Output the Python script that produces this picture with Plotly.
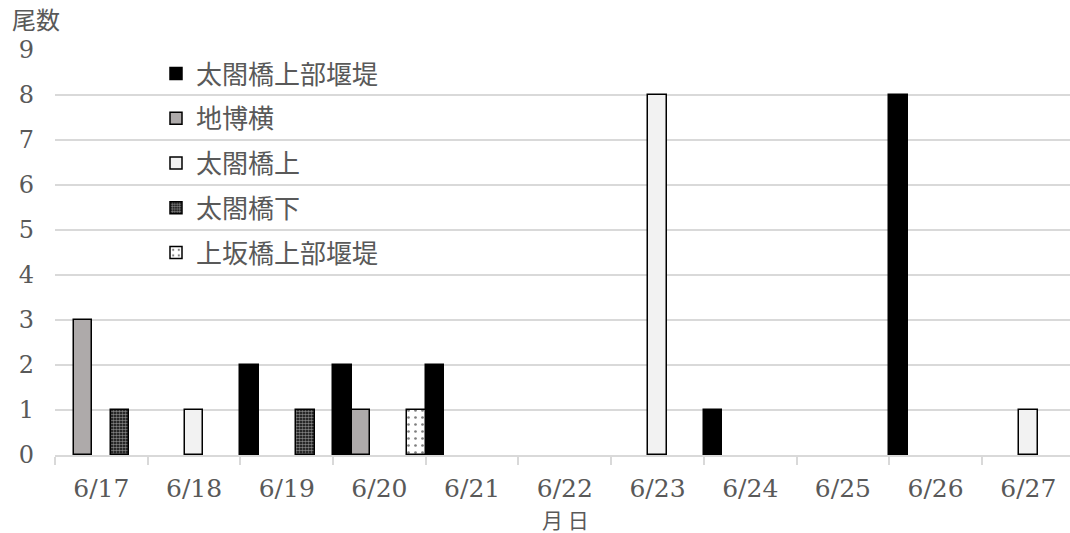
import plotly.graph_objects as go

# Daily counts per survey point
dates = ["6/17", "6/18", "6/19", "6/20", "6/21", "6/22", "6/23", "6/24", "6/25", "6/26", "6/27"]
taikobashi_weir = [None, None, 2, 2, 2, None, None, 1, None, 8, None]
chihaku_yoko = [3, None, None, 1, None, None, None, None, None, None, None]
taikobashi_up = [None, 1, None, None, None, None, 8, None, None, None, 1]
taikobashi_down = [1, None, 1, None, None, None, None, None, None, None, None]
kosaka_weir = [None, None, None, 1, None, None, None, None, None, None, None]

W, H = 1070, 533
ML, MR, MT, MB = 55, 0, 50, 78
TXT = "#595959"
GRID = "#d9d9d9"
NUM_FONT = "DejaVu Serif, Noto Sans CJK JP"

fig = go.Figure()

def add(name, vals, color, pattern=None):
    marker = dict(color=color, line=dict(color="black", width=1.5))
    if pattern:
        marker["pattern"] = pattern
    fig.add_trace(go.Bar(x=dates, y=vals, name=name, marker=marker,
                         legendgroup=name))

add("太閤橋上部堰堤", taikobashi_weir, "#000000")
add("地博横", chihaku_yoko, "#aeaaaa")
add("太閤橋上", taikobashi_up, "#f2f2f2")
add("太閤橋下", taikobashi_down, "black",
    dict(shape=".", fgcolor="white", bgcolor="black", size=3, solidity=0.6))
add("上坂橋上部堰堤", kosaka_weir, "white",
    dict(shape=".", fgcolor="black", bgcolor="white", size=7, solidity=0.12))

def px_x(p):
    return (p - ML) / (W - ML - MR)

def px_y(p):
    return (H - MB - p) / (H - MT - MB)

fig.update_layout(
    width=W, height=H,
    margin=dict(l=ML, r=MR, t=MT, b=MB),
    paper_bgcolor="white", plot_bgcolor="white",
    barmode="group", bargap=0, bargroupgap=0,
    font=dict(family=NUM_FONT, color=TXT, size=24),
    showlegend=True,
    legend=dict(
        x=px_x(156), y=px_y(50), xanchor="left", yanchor="top",
        bgcolor="rgba(0,0,0,0)", traceorder="grouped",
        tracegroupgap=8,
        font=dict(family="Noto Sans CJK JP", size=26, color=TXT),
    ),
    xaxis=dict(
        type="category", range=[-0.5, 10.45],
        showline=True, linecolor=GRID, linewidth=1.5,
        ticks="outside", tickson="boundaries", ticklen=8,
        tickcolor=GRID, tickwidth=1.5,
        showgrid=False,
        tickfont=dict(family=NUM_FONT, size=25, color=TXT),
        ticklabelstandoff=10,
    ),
    yaxis=dict(
        range=[0, 9], dtick=1, tick0=0,
        showgrid=True, gridcolor=GRID, gridwidth=1.5,
        zeroline=False, showline=False, ticks="",
        tickfont=dict(family=NUM_FONT, size=24, color=TXT),
        ticklabelstandoff=20,
    ),
    annotations=[
        dict(text="尾数", xref="paper", yref="paper",
             x=px_x(10), y=px_y(19), xanchor="left", yanchor="middle",
             showarrow=False,
             font=dict(family="Noto Sans CJK JP", size=24, color=TXT)),
        dict(text="月 日", xref="paper", yref="paper",
             x=px_x(565), y=px_y(519), xanchor="center", yanchor="middle",
             showarrow=False,
             font=dict(family="Noto Sans CJK JP", size=21, color=TXT)),
    ],
)

fig.write_html("out.html")
